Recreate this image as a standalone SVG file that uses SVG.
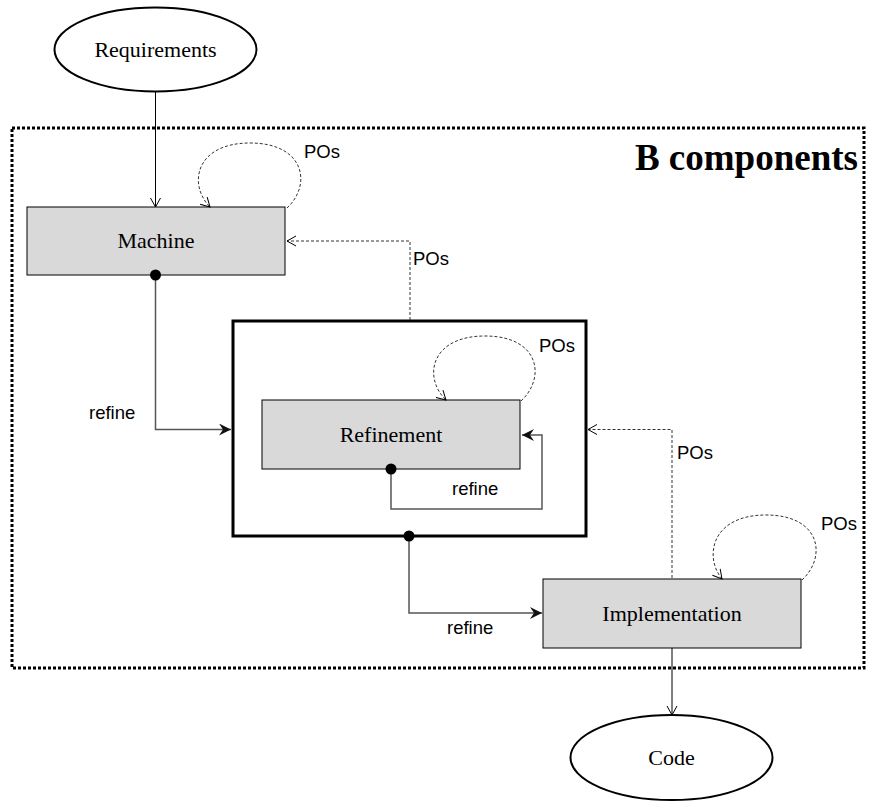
<svg xmlns="http://www.w3.org/2000/svg" width="872" height="806" viewBox="0 0 872 806">
<defs>
<marker id="open" markerWidth="12" markerHeight="12" refX="10" refY="6" orient="auto" markerUnits="userSpaceOnUse">
<path d="M1,1 L10,6 L1,11" fill="none" stroke="#000" stroke-width="1"/>
</marker>
<marker id="solid" markerWidth="14" markerHeight="12" refX="12" refY="6" orient="auto" markerUnits="userSpaceOnUse">
<path d="M0,0 L12,6 L0,12 L4,6 Z" fill="#111"/>
</marker>
<style>
.node{fill:#d9d9d9;stroke:#000;stroke-width:1}
.ell{fill:#fff;stroke:#000;stroke-width:2}
.nt{font-family:"Liberation Serif","Times New Roman",serif;font-size:22px;fill:#000;text-anchor:middle}
.lab{font-family:"Liberation Sans",Arial,sans-serif;font-size:18.5px;fill:#000}
.po{fill:none;stroke:#333;stroke-width:1;stroke-dasharray:3 2}
.req{fill:none;stroke:#000;stroke-width:1}
.ref{fill:none;stroke:#555;stroke-width:1.5}
.dot{fill:#000}
</style>
</defs>
<rect width="872" height="806" fill="#fff"/>
<g id="b-components">
<rect x="12" y="128" width="852" height="540" fill="none" stroke="#000" stroke-width="3" stroke-dasharray="3 2"/>
<text x="858" y="170" font-family="'Liberation Serif','Times New Roman',serif" font-size="37" font-weight="bold" text-anchor="end">B components</text>
</g>
<g id="requirements">
<ellipse class="ell" cx="155.5" cy="49.5" rx="101" ry="42"/>
<text class="nt" x="155.5" y="57">Requirements</text>
</g>
<g id="machine">
<rect class="node" x="27" y="207" width="258" height="68"/>
<text class="nt" x="156" y="248">Machine</text>
</g>
<g id="refinement-box">
<rect x="233" y="321" width="353" height="215" fill="#fff" stroke="#000" stroke-width="3"/>
</g>
<g id="refinement">
<rect class="node" x="262" y="400" width="258" height="69"/>
<text class="nt" x="391" y="442">Refinement</text>
</g>
<g id="implementation">
<rect class="node" x="543" y="579" width="258" height="69"/>
<text class="nt" x="672" y="621">Implementation</text>
</g>
<g id="code">
<ellipse class="ell" cx="671.5" cy="757.5" rx="101" ry="42.5"/>
<text class="nt" x="671.5" y="765">Code</text>
</g>
<g id="connectors">
<path class="req" d="M155.5,92 L155.5,207" marker-end="url(#open)"/>
<path class="req" d="M672,648 L672,715" marker-end="url(#open)"/>
<path class="po" d="M287,208 C312,185 305,143 250,143 C195,143 188,185 210,207" marker-end="url(#open)"/>
<path class="po" d="M521,401 C546,378 540,336 485,336 C430,336 423,378 446,400" marker-end="url(#open)"/>
<path class="po" d="M802,580 C827,557 821,515 766,515 C711,515 704,557 722,579" marker-end="url(#open)"/>
<path class="po" d="M410,320 L410,241 L287,241" marker-end="url(#open)"/>
<path class="po" d="M672,578 L672,429.5 L588,429.5" marker-end="url(#open)"/>
<path class="ref" d="M155.5,275 L155.5,429.5 L231,429.5" marker-end="url(#solid)"/>
<path class="ref" d="M391,469 L391,509 L542,509 L542,435 L522,435" marker-end="url(#solid)"/>
<path class="ref" d="M409,536 L409,613 L542,613" marker-end="url(#solid)"/>
<circle class="dot" cx="155.5" cy="275" r="5.5"/>
<circle class="dot" cx="391" cy="469" r="5.5"/>
<circle class="dot" cx="409" cy="536" r="5.5"/>
<text class="lab" x="304" y="158">POs</text>
<text class="lab" x="413" y="265">POs</text>
<text class="lab" x="539" y="352">POs</text>
<text class="lab" x="677" y="459">POs</text>
<text class="lab" x="821" y="530">POs</text>
<text class="lab" x="89" y="419">refine</text>
<text class="lab" x="452" y="495">refine</text>
<text class="lab" x="447" y="634">refine</text>
</g>
</svg>
